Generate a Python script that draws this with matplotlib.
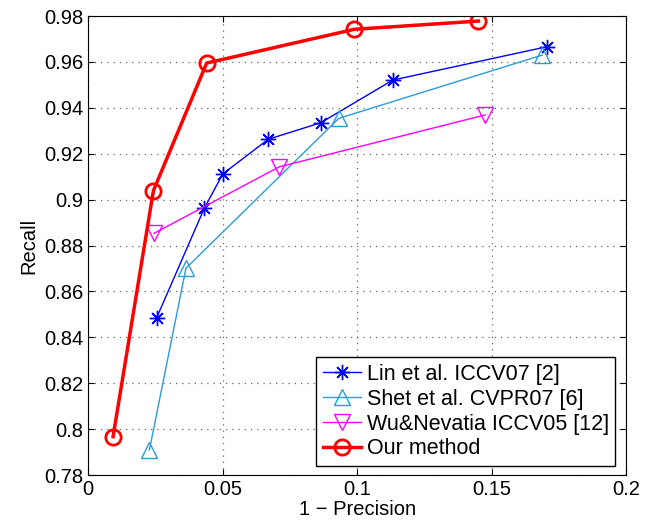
import numpy as np
import matplotlib.pyplot as plt

plt.rcParams['font.family'] = ['Liberation Sans', 'DejaVu Sans']

# data
ours_x = [0.0093, 0.0243, 0.0441, 0.0989, 0.1451]
ours_y = [0.7967, 0.9039, 0.9595, 0.9742, 0.9778]

lin_x = [0.0255, 0.0432, 0.0501, 0.0670, 0.0865, 0.1133, 0.1705]
lin_y = [0.8485, 0.8962, 0.9112, 0.9263, 0.9335, 0.9521, 0.9666]

shet_x = [0.0228, 0.0364, 0.0932, 0.1689]
shet_y = [0.7909, 0.8701, 0.9354, 0.9630]

wu_x = [0.0245, 0.0711, 0.1476]
wu_y = [0.8853, 0.9143, 0.9369]

fig = plt.figure(figsize=(6.57, 5.25), dpi=100)
ax = fig.add_axes([0.134, 0.0952, 0.819, 0.8743])

# MATLAB style asterisk: 8 arms
ax.plot(lin_x, lin_y, color='#0000ff', lw=1, marker=(8, 2, 0), ms=11, mew=1,
        label='Lin et al. ICCV07 [2]')
ax.plot(shet_x, shet_y, color='#2b9cd8', lw=1, marker='^', ms=12, mfc='none', mew=1,
        label='Shet et al. CVPR07 [6]')
ax.plot(wu_x, wu_y, color='#ff00ff', lw=1, marker='v', ms=12, mfc='none', mew=1,
        label='Wu&Nevatia ICCV05 [12]')
ax.plot(ours_x, ours_y, color='#ff0000', lw=2.5, marker='o', ms=11, mfc='none', mew=2,
        label='Our method')

ax.set_xlim(0, 0.2)
ax.set_ylim(0.78, 0.98)
ax.set_xticks([0, 0.05, 0.1, 0.15, 0.2])
ax.set_xticklabels(['0', '0.05', '0.1', '0.15', '0.2'])
yt = np.arange(0.78, 0.981, 0.02)
ax.set_yticks(yt)
ax.set_yticklabels(['%g' % round(v, 2) for v in yt])
ax.tick_params(direction='in', top=True, right=True, labelsize=14.5, length=4)
ax.grid(True, linestyle=(0, (1, 4)), color='#666666', lw=0.9)
ax.set_xlabel('1 \u2212 Precision', fontsize=14.5, labelpad=1)
ax.set_ylabel('Recall', fontsize=14.5, labelpad=4)

leg = ax.legend(loc='lower right', bbox_to_anchor=(0.98, 0.02), fontsize=15.5,
                fancybox=False, framealpha=1, edgecolor='black', borderpad=0.3,
                labelspacing=0.18, handlelength=1.8, handletextpad=0.25, borderaxespad=0)
leg.get_frame().set_linewidth(1)

fig.savefig('out.png', dpi=100)
